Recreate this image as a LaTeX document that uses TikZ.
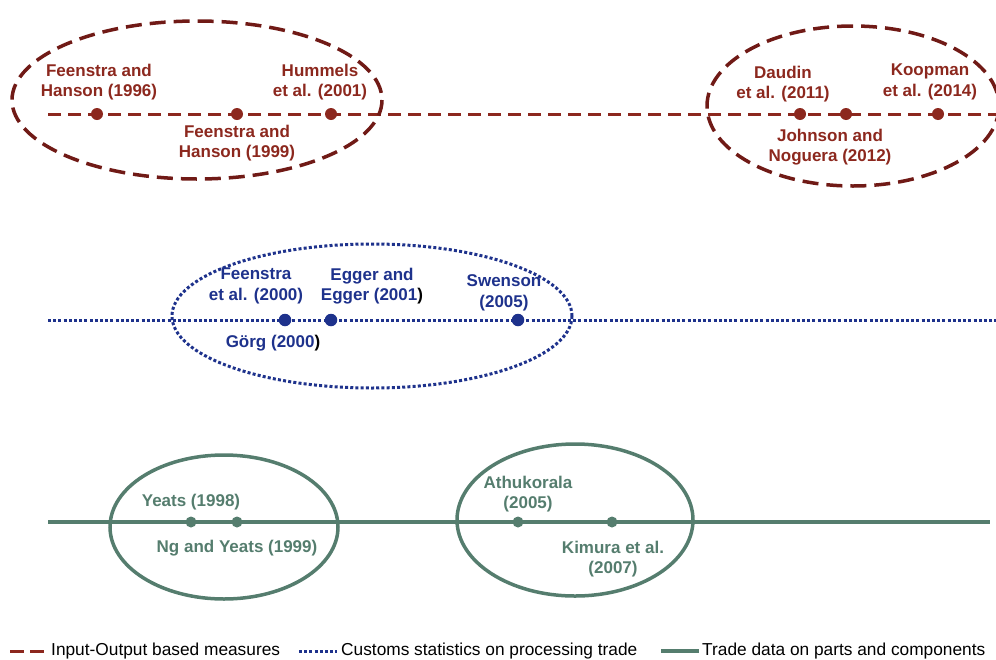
\documentclass[tikz,border=0pt]{standalone}
\usepackage{fontspec}
\setmainfont{Liberation Sans}
\definecolor{iored}{RGB}{140,40,30}
\definecolor{ioellipse}{RGB}{112,26,22}
\definecolor{csblue}{RGB}{30,50,140}
\definecolor{pcgreen}{RGB}{85,125,110}
\begin{document}
\begin{tikzpicture}[x=1pt,y=-1pt,
  lab/.style={align=center,font=\bfseries\fontsize{17}{20.5}\selectfont,inner sep=0pt},
  redlab/.style={lab,text=iored},
  bluelab/.style={lab,text=csblue},
  greenlab/.style={lab,text=pcgreen},
  reddot/.style={circle,fill=iored,inner sep=0pt,minimum size=12pt},
  bluedot/.style={circle,fill=csblue,inner sep=0pt,minimum size=12.5pt},
  greendot/.style={circle,fill=pcgreen,inner sep=0pt,minimum size=11pt},
  redline/.style={iored,line width=3pt,dash pattern=on 13pt off 7pt},
  redell/.style={ioellipse,line width=3.5pt,dash pattern=on 16pt off 8pt},
  blueline/.style={csblue,line width=3pt,dash pattern=on 3pt off 2.2pt},
  greenline/.style={pcgreen,line width=3.5pt},
  legtext/.style={anchor=west,font=\fontsize{17.3}{18}\selectfont,inner sep=0pt,text=black}
]
\useasboundingbox (0,0) rectangle (996,659);

% ---------- Input-Output row ----------
\coordinate (rA) at (48,114);
\coordinate (rB) at (996,114);
\draw[redline] (rA) -- (rB);
\draw[redell] (197,100) ellipse [x radius=185, y radius=79];
\draw[redell] (853,106) ellipse [x radius=146, y radius=80];
\node[reddot] (r1) at (97,114) {};
\node[reddot] (r2) at (237,114) {};
\node[reddot] (r3) at (331,114) {};
\node[reddot] (r4) at (800,114) {};
\node[reddot] (r5) at (846,114) {};
\node[reddot] (r6) at (938,114) {};
\node[redlab] (t1) at (99,82) {Feenstra and\\Hanson (1996)};
\node[redlab] (t2) at (320,82) {Hummels\\et al. (2001)};
\node[redlab] (t3) at (237,143) {Feenstra and\\Hanson (1999)};
\node[redlab] (t4) at (783,84) {Daudin\\et al. (2011)};
\node[redlab] (t5) at (930,82) {Koopman\\et al. (2014)};
\node[redlab] (t6) at (830,147) {Johnson and\\Noguera (2012)};

% ---------- Customs statistics row ----------
\coordinate (bA) at (48,320);
\coordinate (bB) at (996,320);
\draw[blueline] (bA) -- (bB);
\draw[blueline] (372,316) ellipse [x radius=200, y radius=72];
\node[bluedot] (b1) at (285,320) {};
\node[bluedot] (b2) at (331,320) {};
\node[bluedot] (b3) at (518,320) {};
\node[bluelab] (u1) at (256,286) {Feenstra\\et al. (2000)};
\node[bluelab] (u2) at (372,286) {Egger and\\Egger (2001\textcolor{black}{)}};
\node[bluelab] (u3) at (504,293) {Swenson\\(2005)};
\node[bluelab] (u4) at (273,343) {Görg (2000\textcolor{black}{)}};

% ---------- Parts and components row ----------
\coordinate (gA) at (48,522);
\coordinate (gB) at (990,522);
\draw[greenline] (gA) -- (gB);
\draw[greenline] (224,527) ellipse [x radius=114, y radius=72];
\draw[greenline] (575,520) ellipse [x radius=118, y radius=76];
\node[greendot] (g1) at (191,522) {};
\node[greendot] (g2) at (237,522) {};
\node[greendot] (g3) at (518,522) {};
\node[greendot] (g4) at (612,522) {};
\node[greenlab] (v1) at (191,502) {Yeats (1998)};
\node[greenlab] (v2) at (237,548) {Ng and Yeats (1999)};
\node[greenlab] (v3) at (528,494) {Athukorala\\(2005)};
\node[greenlab] (v4) at (613,559) {Kimura et al.\\(2007)};

% ---------- Legend ----------
\coordinate (l1a) at (10,651);
\coordinate (l1b) at (48,651);
\draw[iored,line width=3pt,dash pattern=on 14pt off 6pt] (l1a) -- (l1b);
\node[legtext] (lt1) at (51,651) {Input-Output based measures};
\coordinate (l2a) at (299,651);
\coordinate (l2b) at (337,651);
\draw[csblue,line width=3pt,dash pattern=on 3pt off 2.2pt] (l2a) -- (l2b);
\node[legtext] (lt2) at (341,651) {Customs statistics on processing trade};
\coordinate (l3a) at (661,651);
\coordinate (l3b) at (699,651);
\draw[pcgreen,line width=3.5pt] (l3a) -- (l3b);
\node[legtext] (lt3) at (702,651) {Trade data on parts and components};
\end{tikzpicture}
\end{document}
